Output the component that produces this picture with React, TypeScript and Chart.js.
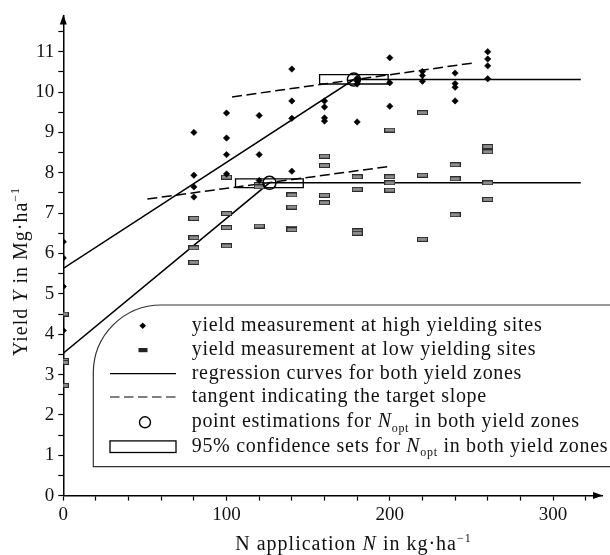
import React, { useEffect, useRef } from 'react';
import { Chart, registerables } from 'chart.js';

Chart.register(...registerables);

const FONT = '"Liberation Serif", "Times New Roman", serif';

// ---- data ----
const highN = [0, 0, 0, 0, 80, 80, 80, 80, 100, 100, 100, 100, 120, 120, 120, 140, 140, 140, 140, 160, 160, 160, 160, 180, 180, 180, 180, 200, 200, 200, 220, 220, 220, 240, 240, 240, 240, 260, 260, 260, 260];
const highY = [6.29, 5.89, 5.18, 4.09, 9.0, 7.94, 7.65, 7.4, 9.48, 8.86, 8.45, 7.97, 9.42, 8.45, 7.81, 10.57, 9.78, 9.35, 8.04, 9.78, 9.63, 9.36, 9.28, 10.34, 10.27, 10.2, 9.26, 10.85, 10.23, 9.65, 10.51, 10.41, 10.27, 10.47, 10.21, 10.12, 9.78, 11.0, 10.82, 10.65, 10.33];

const lowN = [0, 0, 0, 0, 80, 80, 80, 80, 100, 100, 100, 100, 120, 120, 120, 140, 140, 140, 140, 160, 160, 160, 160, 180, 180, 180, 180, 200, 200, 200, 200, 220, 220, 220, 240, 240, 240, 260, 260, 260, 260];
const lowY = [4.5, 3.35, 3.3, 2.73, 6.87, 6.39, 6.14, 5.78, 7.89, 6.99, 6.64, 6.19, 7.71, 7.65, 6.68, 7.45, 7.15, 6.63, 6.59, 8.41, 8.18, 7.44, 7.26, 7.9, 7.59, 6.56, 6.5, 9.06, 7.9, 7.75, 7.57, 9.49, 7.94, 6.35, 8.2, 7.85, 6.96, 8.65, 8.52, 7.75, 7.34];

const regHighN = [0, 178, 317];
const regHighY = [5.63, 10.31, 10.31];
const regLowN = [0, 126.3, 317];
const regLowY = [3.53, 7.75, 7.75];

const tanHighN = [103.4, 251];
const tanHighY = [9.88, 10.72];
const tanLowN = [51.5, 198.4];
const tanLowY = [7.35, 8.15];

const optN = [178, 126.3];
const optY = [10.31, 7.75];

const ciHighN = [157, 199];
const ciHighY = [10.2, 10.43];
const ciLowN = [105.5, 147];
const ciLowY = [7.63, 7.85];

const xTickValues = [0, 20, 40, 60, 80, 100, 120, 140, 160, 180, 200, 220, 240, 260, 280, 300, 320];
const xTickLabels = ['0', '', '', '', '', '100', '', '', '', '', '200', '', '', '', '', '300', ''];
const yTickValues = [0, 0.5, 1, 1.5, 2, 2.5, 3, 3.5, 4, 4.5, 5, 5.5, 6, 6.5, 7, 7.5, 8, 8.5, 9, 9.5, 10, 10.5, 11, 11.5];
const yTickLabels = ['0', '', '1', '', '2', '', '3', '', '4', '', '5', '', '6', '', '7', '', '8', '', '9', '', '10', '', '11', ''];

type Part = { t: string; i?: boolean; sup?: boolean; sub?: boolean };

const xTitle: Part[] = [{ t: 'N application ' }, { t: 'N', i: true }, { t: ' in kg·ha' }, { t: '−1', sup: true }];
const yTitle: Part[] = [{ t: 'Yield ' }, { t: 'Y', i: true }, { t: ' in Mg·ha' }, { t: '−1', sup: true }];

const legendRows: Part[][] = [
  [{ t: 'yield measurement at high yielding sites' }],
  [{ t: 'yield measurement at low yielding sites' }],
  [{ t: 'regression curves for both yield zones' }],
  [{ t: 'tangent indicating the target slope' }],
  [{ t: 'point estimations for ' }, { t: 'N', i: true }, { t: 'opt', sub: true }, { t: ' in both yield zones' }],
  [{ t: '95% confidence sets for ' }, { t: 'N', i: true }, { t: 'opt', sub: true }, { t: ' in both yield zones' }],
];

const pts = (xs: number[], ys: number[]) => xs.map((x, i) => ({ x, y: ys[i] }));
const boxPts = (xs: number[], ys: number[]) => [
  { x: xs[0], y: ys[0] }, { x: xs[1], y: ys[0] }, { x: xs[1], y: ys[1] }, { x: xs[0], y: ys[1] }, { x: xs[0], y: ys[0] },
];

function drawRich(ctx: CanvasRenderingContext2D, parts: Part[], x: number, y: number, size: number, spacing: number, align: 'left' | 'center') {
  const fontFor = (p: Part) => `${p.i ? 'italic ' : ''}${p.sup || p.sub ? Math.round(size * 0.6) : size}px ${FONT}`;
  (ctx as any).letterSpacing = spacing + 'px';
  ctx.textAlign = 'left';
  ctx.textBaseline = 'alphabetic';
  let total = 0;
  const widths = parts.map((p) => {
    ctx.font = fontFor(p);
    const w = ctx.measureText(p.t).width;
    total += w;
    return w;
  });
  let cx = align === 'center' ? x - total / 2 : x;
  parts.forEach((p, k) => {
    ctx.font = fontFor(p);
    const dy = p.sup ? -size * 0.42 : p.sub ? size * 0.22 : 0;
    ctx.fillText(p.t, cx, y + dy);
    cx += widths[k];
  });
  (ctx as any).letterSpacing = '0px';
}

const decor = {
  id: 'decor',
  afterDraw(chart: any) {
    const ctx: CanvasRenderingContext2D = chart.ctx;
    const { left, right, top, bottom } = chart.chartArea;
    ctx.save();
    ctx.fillStyle = '#000';
    // arrows
    ctx.beginPath();
    ctx.moveTo(right + 1, bottom);
    ctx.lineTo(right - 9, bottom - 3.5);
    ctx.lineTo(right - 9, bottom + 3.5);
    ctx.closePath();
    ctx.fill();
    ctx.beginPath();
    ctx.moveTo(left, top - 1);
    ctx.lineTo(left - 3.5, top + 9);
    ctx.lineTo(left + 3.5, top + 9);
    ctx.closePath();
    ctx.fill();

    // axis titles
    ctx.fillStyle = '#111';
    drawRich(ctx, xTitle, 353.5, 550, 20, 1, 'center');
    ctx.save();
    ctx.translate(27, 271.5);
    ctx.rotate(-Math.PI / 2);
    drawRich(ctx, yTitle, 0, 0, 20, 1, 'center');
    ctx.restore();

    // legend box
    const L = 93.3, T = 305, B = 466.7, R = 68;
    ctx.beginPath();
    ctx.moveTo(612, T);
    ctx.lineTo(L + R, T);
    ctx.ellipse(L + R, T + R, R, R, 0, -Math.PI / 2, Math.PI, true);
    ctx.lineTo(L, B);
    ctx.lineTo(612, B);
    ctx.fillStyle = '#fff';
    ctx.fill();
    ctx.strokeStyle = '#333';
    ctx.lineWidth = 1.2;
    ctx.stroke();

    const rows = [325.7, 350, 373.7, 397, 422.3, 446.7];
    // symbols
    ctx.fillStyle = '#000';
    ctx.beginPath();
    ctx.moveTo(142.7, rows[0] - 3.2);
    ctx.lineTo(146, rows[0]);
    ctx.lineTo(142.7, rows[0] + 3.2);
    ctx.lineTo(139.4, rows[0]);
    ctx.closePath();
    ctx.fill();
    ctx.fillStyle = '#222';
    ctx.fillRect(138.5, rows[1] - 2, 9, 4.2);
    ctx.strokeStyle = '#000';
    ctx.lineWidth = 1.2;
    ctx.beginPath();
    ctx.moveTo(110, rows[2]);
    ctx.lineTo(176, rows[2]);
    ctx.stroke();
    ctx.setLineDash([9.5, 4.5]);
    ctx.beginPath();
    ctx.moveTo(110, rows[3]);
    ctx.lineTo(176, rows[3]);
    ctx.stroke();
    ctx.setLineDash([]);
    ctx.lineWidth = 1.4;
    ctx.beginPath();
    ctx.arc(145, rows[4], 5.5, 0, Math.PI * 2);
    ctx.stroke();
    ctx.lineWidth = 1.3;
    ctx.strokeRect(110, rows[5] - 5.8, 66, 11.6);

    ctx.fillStyle = '#111';
    legendRows.forEach((parts, k) => drawRich(ctx, parts, 191.7, rows[k] + 5, 20, 0.7, 'left'));
    ctx.restore();
  },
};

export default function App() {
  const ref = useRef<HTMLCanvasElement>(null);
  useEffect(() => {
    document.body.style.margin = '0';
    const lowMark = document.createElement('canvas');
    lowMark.width = 11;
    lowMark.height = 5;
    const mctx = lowMark.getContext('2d')!;
    mctx.fillStyle = '#8c8c8c';
    mctx.fillRect(0.5, 0.5, 10, 4);
    mctx.strokeStyle = '#2a2a2a';
    mctx.lineWidth = 1;
    mctx.strokeRect(0.5, 0.5, 10, 4);

    const lineDs = (data: any[], dash: number[] = [], order = 2) => ({
      type: 'line' as const,
      data,
      showLine: true,
      borderColor: '#000',
      borderWidth: 1.5,
      borderDash: dash,
      pointRadius: 0,
      fill: false,
      tension: 0,
      order,
    });

    const chart = new Chart(ref.current!, {
      type: 'scatter',
      data: {
        datasets: [
          { ...lineDs(boxPts(ciHighN, ciHighY), [], 5), borderWidth: 1.3 },
          { ...lineDs(boxPts(ciLowN, ciLowY), [], 5), borderWidth: 1.3 },
          lineDs(pts(regHighN, regHighY), [], 4),
          lineDs(pts(regLowN, regLowY), [], 4),
          lineDs(pts(tanHighN, tanHighY), [10, 4.5], 4),
          lineDs(pts(tanLowN, tanLowY), [10, 4.5], 4),
          {
            type: 'scatter' as const,
            data: pts(lowN, lowY),
            pointStyle: lowMark as any,
            pointRadius: 5,
            order: 3,
          },
          {
            type: 'scatter' as const,
            data: pts(highN, highY),
            pointStyle: 'rectRot',
            pointRadius: 3.2,
            backgroundColor: '#000',
            borderColor: '#000',
            borderWidth: 0.6,
            order: 2,
          },
          {
            type: 'scatter' as const,
            data: pts(optN, optY),
            pointStyle: 'circle',
            pointRadius: 6.5,
            backgroundColor: 'rgba(255,255,255,0)',
            borderColor: '#000',
            borderWidth: 1.5,
            order: 1,
          },
        ] as any,
      },
      options: {
        responsive: false,
        animation: false,
        devicePixelRatio: 1,
        layout: { padding: { top: 13.7, right: 2, left: 0, bottom: 0 } },
        plugins: { legend: { display: false }, tooltip: { enabled: false } },
        scales: {
          x: {
            type: 'linear',
            min: 0,
            max: 330,
            afterFit: (s: any) => {
              s.height = 59.4;
            },
            afterBuildTicks: (s: any) => {
              s.ticks = xTickValues.map((v) => ({ value: v }));
            },
            ticks: {
              autoSkip: false,
              maxRotation: 0,
              padding: 3,
              color: '#111',
              font: { family: FONT, size: 19 },
              callback: (_v: any, i: number) => xTickLabels[i],
            },
            grid: { drawOnChartArea: false, tickLength: 5, color: '#000', tickWidth: 1.2 },
            border: { color: '#000', width: 1.5 },
          },
          y: {
            type: 'linear',
            min: 0,
            max: 11.9,
            afterFit: (s: any) => {
              s.width = 63.3;
            },
            afterBuildTicks: (s: any) => {
              s.ticks = yTickValues.map((v) => ({ value: v }));
            },
            ticks: {
              autoSkip: false,
              padding: 4,
              color: '#111',
              font: { family: FONT, size: 19 },
              callback: (_v: any, i: number) => yTickLabels[i],
            },
            grid: { drawOnChartArea: false, tickLength: 5, color: '#000', tickWidth: 1.2 },
            border: { color: '#000', width: 1.5 },
          },
        },
      },
      plugins: [decor],
    } as any);
    return () => chart.destroy();
  }, []);
  return (
    <div style={{ width: 610, height: 555 }}>
      <canvas ref={ref} width={610} height={555} style={{ display: 'block' }} />
    </div>
  );
}
